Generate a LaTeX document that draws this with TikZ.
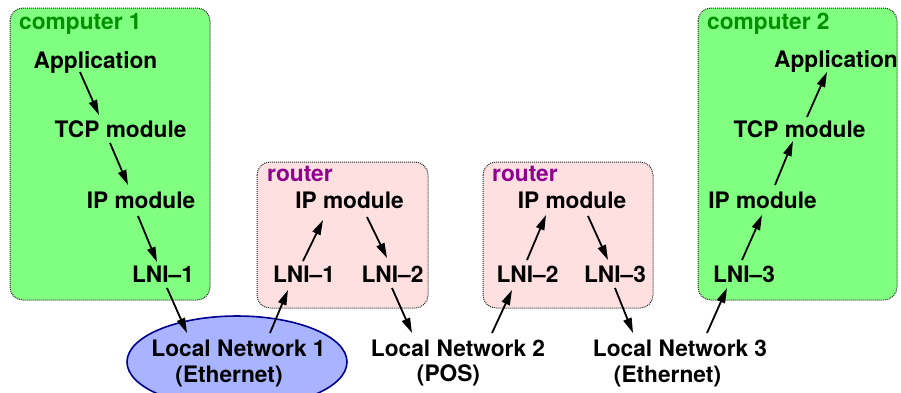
\documentclass[tikz,border=0pt]{standalone}
\usepackage{fontspec}
\setmainfont{TeX Gyre Heros}
\usetikzlibrary{arrows.meta,calc,shapes.geometric}

\definecolor{hostfill}{RGB}{128,255,128}
\definecolor{hosttext}{RGB}{0,144,0}
\definecolor{routerfill}{RGB}{255,224,224}
\definecolor{routertext}{RGB}{144,0,144}
\definecolor{lanfill}{RGB}{168,180,255}
\definecolor{landraw}{RGB}{0,0,144}

\tikzset{
  lbl/.style={inner sep=0pt, anchor=base, font=\fontsize{22.7}{27}\selectfont\bfseries},
  boxtitle/.style={lbl, anchor=base west},
  framebase/.style={draw=black!85, densely dotted, line width=1pt, rounded corners=13pt},
  hostbox/.style={framebase, fill=hostfill},
  routerbox/.style={framebase, fill=routerfill},
  lanshape/.style={ellipse, fill=lanfill, draw=landraw, line width=1.6pt,
                   minimum width=220pt, minimum height=92pt, inner sep=0pt},
  arr/.style={line width=1.8pt, -{Triangle[length=15pt,width=8.5pt]}},
}

\begin{document}
\begin{tikzpicture}[x=1pt, y=-1pt]
\useasboundingbox (0,0) rectangle (901,392);

% host and router frames
\draw[hostbox]   (10,8)   rectangle (210,300);
\draw[hostbox]   (698,8)  rectangle (897,300);
\draw[routerbox] (257,162) rectangle (428,308);
\draw[routerbox] (483,162) rectangle (653,308);

% Ethernet segment on the left
\node[lanshape] (lan1) at (237,362) {};

% frame titles
\node[boxtitle, text=hosttext]   (t1) at (19,29)   {computer 1};
\node[boxtitle, text=hosttext]   (t2) at (707,29)  {computer 2};
\node[boxtitle, text=routertext] (t3) at (267,181) {router};
\node[boxtitle, text=routertext] (t4) at (492,181) {router};

% computer 1 stack
\node[lbl] (app1)  at (95.5,68)  {Application};
\node[lbl] (tcp1)  at (120.5,137) {TCP module};
\node[lbl] (ip1)   at (141,208)  {IP module};
\node[lbl] (lni1a) at (163,282)  {LNI–1};

% router 1
\node[lbl] (ip2)   at (349.5,208) {IP module};
\node[lbl] (lni1b) at (304,282)   {LNI–1};
\node[lbl] (lni2a) at (392.5,282) {LNI–2};

% router 2
\node[lbl] (ip3)   at (572,208)   {IP module};
\node[lbl] (lni2b) at (527.5,282) {LNI–2};
\node[lbl] (lni3a) at (615,282)   {LNI–3};

% computer 2 stack
\node[lbl] (app2)  at (836,67)    {Application};
\node[lbl] (tcp2)  at (799.5,137) {TCP module};
\node[lbl] (ip4)   at (762.5,208) {IP module};
\node[lbl] (lni3b) at (744,282)   {LNI–3};

% networks
\node[lbl] (ln1)  at (238.5,356) {Local Network 1};
\node[lbl] (eth1) at (229,382.5) {(Ethernet)};
\node[lbl] (ln2)  at (458,356)   {Local Network 2};
\node[lbl] (pos)  at (448.5,381) {(POS)};
\node[lbl] (ln3)  at (680,356)   {Local Network 3};
\node[lbl] (eth3) at (667.5,382) {(Ethernet)};

% path of a datagram
\draw[arr] ($(app1.base)+(-15.5,4)$)  -- ($(tcp1.base)+(-21.5,-22)$);
\draw[arr] ($(tcp1.base)+(-10.5,6)$)  -- ($(ip1.base)+(-13,-23)$);
\draw[arr] ($(ip1.base)+(-3,8)$)      -- ($(lni1a.base)+(-6,-20)$);
\draw[arr] ($(lni1a.base)+(4,6)$)     -- ($(ln1.base)+(-51.5,-23)$);
\draw[arr] ($(ln1.base)+(31.5,-23)$)  -- ($(lni1b.base)+(-16,8)$);
\draw[arr] ($(lni1b.base)+(-1,-21)$)  -- ($(ip2.base)+(-26.5,12)$);
\draw[arr] ($(ip2.base)+(17.5,9)$)    -- ($(lni2a.base)+(-5.5,-24)$);
\draw[arr] ($(lni2a.base)+(-0.5,6)$)  -- ($(ln2.base)+(-46,-23)$);
\draw[arr] ($(ln2.base)+(34,-23)$)    -- ($(lni2b.base)+(-15.5,8)$);
\draw[arr] ($(lni2b.base)+(-0.5,-22)$) -- ($(ip3.base)+(-26,7)$);
\draw[arr] ($(ip3.base)+(16,8)$)      -- ($(lni3a.base)+(-7,-22)$);
\draw[arr] ($(lni3a.base)+(0,6)$)     -- ($(ln3.base)+(-47,-23)$);
\draw[arr] ($(ln3.base)+(27,-23)$)    -- ($(lni3b.base)+(-17,6)$);
\draw[arr] ($(lni3b.base)+(-2,-22)$)  -- ($(ip4.base)+(-0.5,7)$);
\draw[arr] ($(ip4.base)+(12.5,-23)$)  -- ($(tcp2.base)+(-6.5,4)$);
\draw[arr] ($(tcp2.base)+(7.5,-20)$)  -- ($(app2.base)+(-9,5)$);
\end{tikzpicture}
\end{document}
